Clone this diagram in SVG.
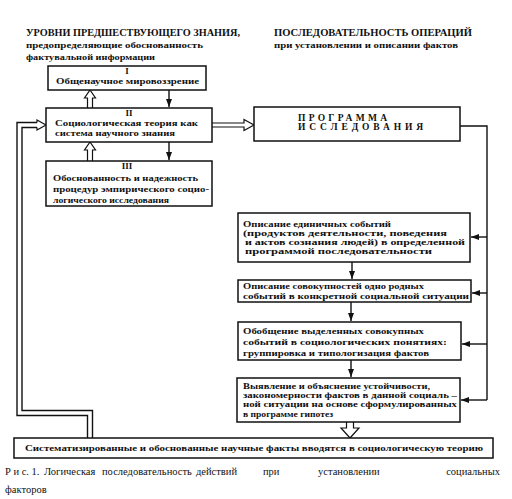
<svg xmlns="http://www.w3.org/2000/svg" width="512" height="499" viewBox="0 0 512 499">
<style>
.box{fill:#fff;stroke:#111;stroke-width:1.5}
.t{font-family:"Liberation Serif","DejaVu Serif",serif;font-size:9px;font-weight:bold;fill:#111}
.h{font-family:"Liberation Serif","DejaVu Serif",serif;font-size:9.5px;font-weight:bold;fill:#111}
.cap{font-family:"Liberation Serif","DejaVu Serif",serif;font-size:10.5px;fill:#111}
.ln{fill:none;stroke:#111;stroke-width:1.4}
.hol{fill:#fff;stroke:#111;stroke-width:1.2}
</style>
<defs>
<marker id="ah" viewBox="0 0 8 6" refX="8" refY="3" markerWidth="8" markerHeight="6" markerUnits="userSpaceOnUse" orient="auto">
<path d="M0,0 L8,3 L0,6 Z" fill="#111"/>
</marker>
</defs>
<rect width="512" height="499" fill="#fff"/>

<g id="header-left">
<text class="h" x="26" y="35.5" textLength="214" lengthAdjust="spacingAndGlyphs">УРОВНИ ПРЕДШЕСТВУЮЩЕГО ЗНАНИЯ,</text>
<text class="t" x="26" y="48" textLength="177" lengthAdjust="spacingAndGlyphs">предопределяющие обоснованность</text>
<text class="t" x="26" y="60" textLength="129" lengthAdjust="spacingAndGlyphs">фактувальной информации</text>
</g>
<g id="header-right">
<text class="h" x="274" y="35.5" textLength="198" lengthAdjust="spacingAndGlyphs">ПОСЛЕДОВАТЕЛЬНОСТЬ ОПЕРАЦИЙ</text>
<text class="t" x="274" y="47.5" textLength="184" lengthAdjust="spacingAndGlyphs">при установлении и описании фактов</text>
</g>

<g id="connectors">
<path class="ln" d="M169,90 V107" marker-end="url(#ah)"/>
<path class="ln" d="M169,142 V160" marker-end="url(#ah)"/>
<path class="hol" d="M87.5,108 V98 H84.5 L90,90 L95.5,98 H92.5 V108"/>
<path class="hol" d="M87.5,161 V150 H84.5 L90,142 L95.5,150 H92.5 V161"/>
<path class="hol" d="M212,123 H244 V119.5 L254,125 L244,130.5 V127 H212"/>
<path class="ln" d="M460,126 H487 V400"/>
<path class="ln" d="M487,237 H471" marker-end="url(#ah)"/>
<path class="ln" d="M487,293 H472" marker-end="url(#ah)"/>
<path class="ln" d="M487,344 H462" marker-end="url(#ah)"/>
<path class="ln" d="M487,400 H461" marker-end="url(#ah)"/>
<path class="ln" d="M352,262 V279" marker-end="url(#ah)"/>
<path class="ln" d="M351,302 V321" marker-end="url(#ah)"/>
<path class="ln" d="M351,360 V377" marker-end="url(#ah)"/>
<path class="hol" d="M346.5,422 V428 H341 L350,438 L359,428 H353.5 V422"/>
<path class="ln" d="M92.5,438 V410.5 H22 V127.5 H37" stroke-width="1.2"/>
<path class="ln" d="M87.5,438 V415.5 H17 V122.5 H37" stroke-width="1.2"/>
<path class="hol" d="M37,127.5 V130 L46,125 L37,120 V122.5"/>
</g>

<g id="node-I">
<rect class="box" x="48" y="66" width="158" height="24"/>
<text class="t" x="127" y="74" text-anchor="middle">I</text>
<text class="t" x="56" y="83.5" textLength="143" lengthAdjust="spacingAndGlyphs">Общенаучное мировоззрение</text>
</g>
<g id="node-II">
<rect class="box" x="46" y="108" width="166" height="34"/>
<text class="t" x="129" y="116" text-anchor="middle">II</text>
<text class="t" x="55" y="126" textLength="143" lengthAdjust="spacingAndGlyphs">Социологическая теория как</text>
<text class="t" x="55" y="135.5" textLength="120" lengthAdjust="spacingAndGlyphs">система научного знания</text>
</g>
<g id="node-III">
<rect class="box" x="46" y="161" width="166" height="45"/>
<text class="t" x="127" y="169" text-anchor="middle">III</text>
<text class="t" x="53" y="180.5" textLength="145" lengthAdjust="spacingAndGlyphs">Обоснованность и надежность</text>
<text class="t" x="53" y="191.5" textLength="156" lengthAdjust="spacingAndGlyphs">процедур эмпирического социо-</text>
<text class="t" x="53" y="202.5" textLength="116" lengthAdjust="spacingAndGlyphs">логического исследования</text>
</g>
<g id="node-program">
<rect class="box" x="254" y="107" width="206" height="34"/>
<text class="h" x="298" y="120.5" textLength="89" lengthAdjust="spacing" font-size="9">ПРОГРАММА</text>
<text class="h" x="298" y="129.5" textLength="125" lengthAdjust="spacing" font-size="9">ИССЛЕДОВАНИЯ</text>
</g>
<g id="node-step1">
<rect class="box" x="238" y="213" width="232" height="49"/>
<text class="t" x="243" y="227" textLength="148" lengthAdjust="spacingAndGlyphs">Описание единичных событий</text>
<text class="t" x="243" y="236" textLength="204" lengthAdjust="spacingAndGlyphs">(продуктов деятельности, поведения</text>
<text class="t" x="245" y="245" textLength="220" lengthAdjust="spacingAndGlyphs">и актов сознания людей) в определенной</text>
<text class="t" x="245" y="254" textLength="187" lengthAdjust="spacingAndGlyphs">программой  последовательности</text>
</g>
<g id="node-step2">
<rect class="box" x="238" y="280" width="233" height="22"/>
<text class="t" x="243" y="289" textLength="181" lengthAdjust="spacingAndGlyphs">Описание совокупностей одно родных</text>
<text class="t" x="243" y="298.5" textLength="226" lengthAdjust="spacingAndGlyphs">событий в конкретной социальной ситуации</text>
</g>
<g id="node-step3">
<rect class="box" x="238" y="322" width="223" height="38"/>
<text class="t" x="243" y="334" textLength="181" lengthAdjust="spacingAndGlyphs">Обобщение выделенных совокупных</text>
<text class="t" x="243" y="345" textLength="204" lengthAdjust="spacingAndGlyphs">событий в социологических понятиях:</text>
<text class="t" x="243" y="355.5" textLength="186" lengthAdjust="spacingAndGlyphs">группировка и типологизация фактов</text>
</g>
<g id="node-step4">
<rect class="box" x="237" y="378" width="223" height="44"/>
<text class="t" x="243" y="389" textLength="187" lengthAdjust="spacingAndGlyphs">Выявление и объяснение устойчивости,</text>
<text class="t" x="243" y="398" textLength="214" lengthAdjust="spacingAndGlyphs">закономерности фактов в данной социаль –</text>
<text class="t" x="243" y="407" textLength="214" lengthAdjust="spacingAndGlyphs">ной ситуации на основе сформулированных</text>
<text class="t" x="243" y="416.5" textLength="90" lengthAdjust="spacingAndGlyphs">в программе гипотез</text>
</g>
<g id="node-result">
<rect class="box" x="14" y="438" width="479" height="20"/>
<text class="t" x="25" y="451" textLength="458" lengthAdjust="spacingAndGlyphs">Систематизированные и обоснованные научные факты вводятся в социологическую теорию</text>
</g>

<g id="caption">
<text class="cap" x="5" y="475">Р и с. 1.</text>
<text class="cap" x="44" y="475">Логическая</text>
<text class="cap" x="102" y="475">последовательность</text>
<text class="cap" x="196" y="475">действий</text>
<text class="cap" x="263" y="475">при</text>
<text class="cap" x="318" y="475">установлении</text>
<text class="cap" x="500" y="475" text-anchor="end">социальных</text>
<text class="cap" x="5" y="493">факторов</text>
</g>
</svg>
